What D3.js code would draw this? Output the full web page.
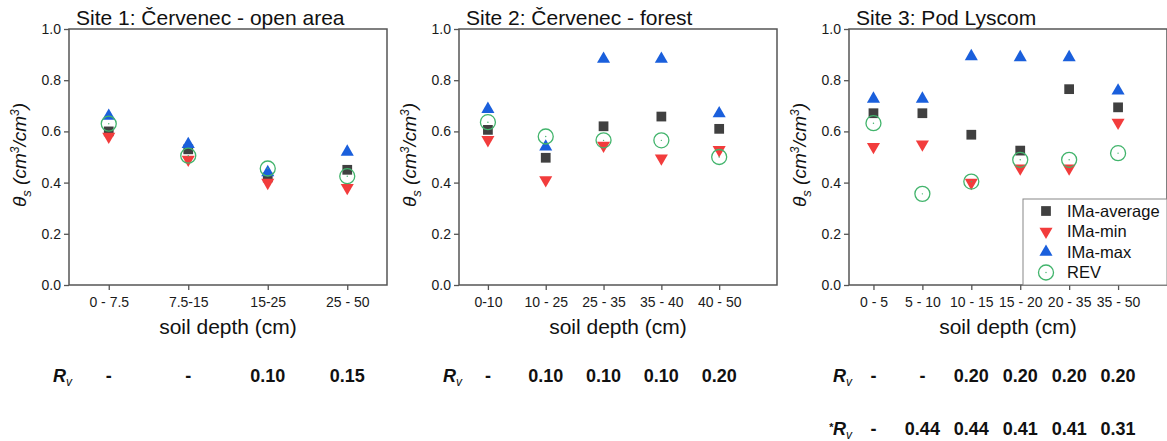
<!DOCTYPE html>
<html>
<head>
<meta charset="utf-8">
<script src="https://cdn.jsdelivr.net/npm/d3@7"></script>
<style>
body { margin: 0; background: #fff; }
text { font-family: "Liberation Sans", Arial, sans-serif; fill: #111; }
</style>
</head>
<body>
<div id="chart"></div>
<script>
// data
var seriesNames = ["IMa-average", "IMa-min", "IMa-max", "REV"];
var yTicks = [0, 0.2, 0.4, 0.6, 0.8, 1.0];

var site1Title = "Site 1: Červenec - open area";
var site1Depths = ["0 - 7.5", "7.5-15", "15-25", "25 - 50"];
var site1Avg = [0.60, 0.53, 0.42, 0.45];
var site1Min = [0.58, 0.49, 0.40, 0.38];
var site1Max = [0.66, 0.55, 0.44, 0.52];
var site1Rev = [0.63, 0.505, 0.455, 0.425];
var site1Rv = ["-", "-", "0.10", "0.15"];

var site2Title = "Site 2: Červenec - forest";
var site2Depths = ["0-10", "10 - 25", "25 - 35", "35 - 40", "40 - 50"];
var site2Avg = [0.606, 0.497, 0.62, 0.658, 0.61];
var site2Min = [0.567, 0.41, 0.545, 0.495, 0.528];
var site2Max = [0.687, 0.54, 0.883, 0.883, 0.67];
var site2Rev = [0.636, 0.58, 0.565, 0.565, 0.50];
var site2Rv = ["-", "0.10", "0.10", "0.10", "0.20"];

var site3Title = "Site 3: Pod Lyscom";
var site3Depths = ["0 - 5", "5 - 10", "10 - 15", "15 - 20", "20 - 35", "35 - 50"];
var site3Avg = [0.671, 0.671, 0.587, 0.525, 0.765, 0.694];
var site3Min = [0.54, 0.55, 0.40, 0.456, 0.456, 0.635];
var site3Max = [0.727, 0.727, 0.893, 0.889, 0.889, 0.759];
var site3Rev = [0.632, 0.356, 0.404, 0.489, 0.489, 0.515];
var site3Rv = ["-", "-", "0.20", "0.20", "0.20", "0.20"];
var site3RvStar = ["-", "0.44", "0.44", "0.41", "0.41", "0.31"];

var width = 1167, height = 441;
var colors = { avg: "#404040", min: "#f23c3c", max: "#1a5fdc", rev: "#42b46c" };

var svg = d3.select("#chart").append("svg")
  .attr("width", width)
  .attr("height", height);

var plotTop = 29, plotBottom = 285, pw = 318;

var panels = [
  { left: 69, xMax: 4.5, title: site1Title, depths: site1Depths, avg: site1Avg, min: site1Min, max: site1Max, rev: site1Rev, rv: [site1Rv] },
  { left: 459, xMax: 6, title: site2Title, depths: site2Depths, avg: site2Avg, min: site2Min, max: site2Max, rev: site2Rev, rv: [site2Rv] },
  { left: 849, xMax: 7, title: site3Title, depths: site3Depths, avg: site3Avg, min: site3Min, max: site3Max, rev: site3Rev, rv: [site3Rv, site3RvStar], legend: true }
];

var sq = d3.symbol().type(d3.symbolSquare).size(95);
var tri = d3.symbol().type(d3.symbolTriangle).size(74);

panels.forEach(function(p) {
  var x = d3.scaleLinear().domain([0.5, p.xMax]).range([p.left, p.left + pw]);
  var y = d3.scaleLinear().domain([0, 1]).range([plotBottom, plotTop]);
  var idx = d3.range(1, p.depths.length + 1);

  // box
  svg.append("rect")
    .attr("x", p.left).attr("y", plotTop)
    .attr("width", pw).attr("height", plotBottom - plotTop)
    .attr("fill", "none").attr("stroke", "#555").attr("stroke-width", 1.5);

  // y axis
  var ya = svg.append("g").attr("transform", "translate(" + p.left + ",0)")
    .call(d3.axisLeft(y).tickValues(yTicks).tickFormat(d3.format(".1f")).tickSize(5).tickPadding(3));
  ya.select(".domain").remove();
  ya.selectAll("line").attr("stroke", "#555").attr("stroke-width", 1.3);
  ya.selectAll("text").style("font-size", "14px").style("fill", "#1a1a1a");

  // x axis
  var xa = svg.append("g").attr("transform", "translate(0," + plotBottom + ")")
    .call(d3.axisBottom(x).tickValues(idx).tickFormat(function(d) { return p.depths[d - 1]; }).tickSize(5).tickPadding(7));
  xa.select(".domain").remove();
  xa.selectAll("line").attr("stroke", "#555").attr("stroke-width", 1.3);
  xa.selectAll("text").style("font-size", "14px").style("fill", "#1a1a1a");

  // title
  svg.append("text").text(p.title)
    .attr("x", p.left + 7).attr("y", 25)
    .style("font-size", "21px");

  // axis labels
  svg.append("text").text("soil depth (cm)")
    .attr("x", p.left + pw / 2).attr("y", 334)
    .attr("text-anchor", "middle")
    .style("font-size", "21px");

  var yl = svg.append("text")
    .attr("transform", "translate(" + (p.left - 43) + "," + 155 + ") rotate(-90)")
    .attr("text-anchor", "middle")
    .style("font-size", "19px").style("font-style", "italic");
  yl.append("tspan").text("θ");
  yl.append("tspan").text("s").attr("dy", 5).style("font-size", "13px");
  yl.append("tspan").text(" (cm").attr("dy", -5);
  yl.append("tspan").text("3").attr("dy", -7).style("font-size", "12px");
  yl.append("tspan").text("/cm").attr("dy", 7);
  yl.append("tspan").text("3").attr("dy", -7).style("font-size", "12px");
  yl.append("tspan").text(")").attr("dy", 7);

  // points
  svg.append("g").selectAll("path").data(p.avg).join("path")
    .attr("d", sq)
    .attr("transform", function(d, i) { return "translate(" + x(i + 1) + "," + y(d) + ")"; })
    .attr("fill", colors.avg);
  svg.append("g").selectAll("path").data(p.min).join("path")
    .attr("d", tri)
    .attr("transform", function(d, i) { return "translate(" + x(i + 1) + "," + y(d) + ") rotate(180)"; })
    .attr("fill", colors.min);
  svg.append("g").selectAll("path").data(p.max).join("path")
    .attr("d", tri)
    .attr("transform", function(d, i) { return "translate(" + x(i + 1) + "," + y(d) + ")"; })
    .attr("fill", colors.max);
  var rg = svg.append("g");
  rg.selectAll("circle.rev").data(p.rev).join("circle")
    .attr("class", "rev")
    .attr("cx", function(d, i) { return x(i + 1); })
    .attr("cy", function(d) { return y(d); })
    .attr("r", 7.5)
    .attr("fill", "none").attr("stroke", colors.rev).attr("stroke-width", 1.3);
  rg.selectAll("circle.dot").data(p.rev).join("circle")
    .attr("class", "dot")
    .attr("cx", function(d, i) { return x(i + 1); })
    .attr("cy", function(d) { return y(d); })
    .attr("r", 0.7).attr("fill", colors.rev);

  // Rv rows
  var rowY = [382, 435];
  p.rv.forEach(function(row, r) {
    var lab = svg.append("text")
      .attr("x", p.left + 3).attr("y", rowY[r])
      .attr("text-anchor", "end")
      .style("font-size", "18px").style("font-weight", "bold").style("font-style", "italic");
    if (r == 1) lab.append("tspan").text("*").attr("dy", -4).style("font-size", "11px");
    lab.append("tspan").text("R").attr("dy", r == 1 ? 4 : 0);
    lab.append("tspan").text("v").attr("dy", 4).style("font-size", "12px").style("font-weight", "normal");
    svg.append("g").selectAll("text").data(row).join("text")
      .text(function(d) { return d; })
      .attr("x", function(d, i) { return x(i + 1); })
      .attr("y", rowY[r])
      .attr("text-anchor", "middle")
      .style("font-size", "18px").style("font-weight", "bold");
  });

  // legend
  if (p.legend) {
    var lx = 1023, ly = 199;
    svg.append("rect")
      .attr("x", lx).attr("y", ly)
      .attr("width", p.left + pw - lx).attr("height", plotBottom - ly)
      .attr("fill", "#fff").attr("stroke", "#888").attr("stroke-width", 1);
    var keys = ["avg", "min", "max", "rev"];
    keys.forEach(function(k, i) {
      var cy = ly + 12 + i * 20.5;
      var cx = lx + 23;
      if (k == "avg") svg.append("path").attr("d", sq).attr("transform", "translate(" + cx + "," + cy + ")").attr("fill", colors.avg);
      if (k == "min") svg.append("path").attr("d", tri).attr("transform", "translate(" + cx + "," + cy + ") rotate(180)").attr("fill", colors.min);
      if (k == "max") svg.append("path").attr("d", tri).attr("transform", "translate(" + cx + "," + cy + ")").attr("fill", colors.max);
      if (k == "rev") {
        svg.append("circle").attr("cx", cx).attr("cy", cy).attr("r", 7.5)
          .attr("fill", "none").attr("stroke", colors.rev).attr("stroke-width", 1.3);
        svg.append("circle").attr("cx", cx).attr("cy", cy).attr("r", 0.7).attr("fill", colors.rev);
      }
      svg.append("text").text(seriesNames[i])
        .attr("x", lx + 44).attr("y", cy + 5.5)
        .style("font-size", "16.5px");
    });
  }
});
</script>
</body>
</html>
